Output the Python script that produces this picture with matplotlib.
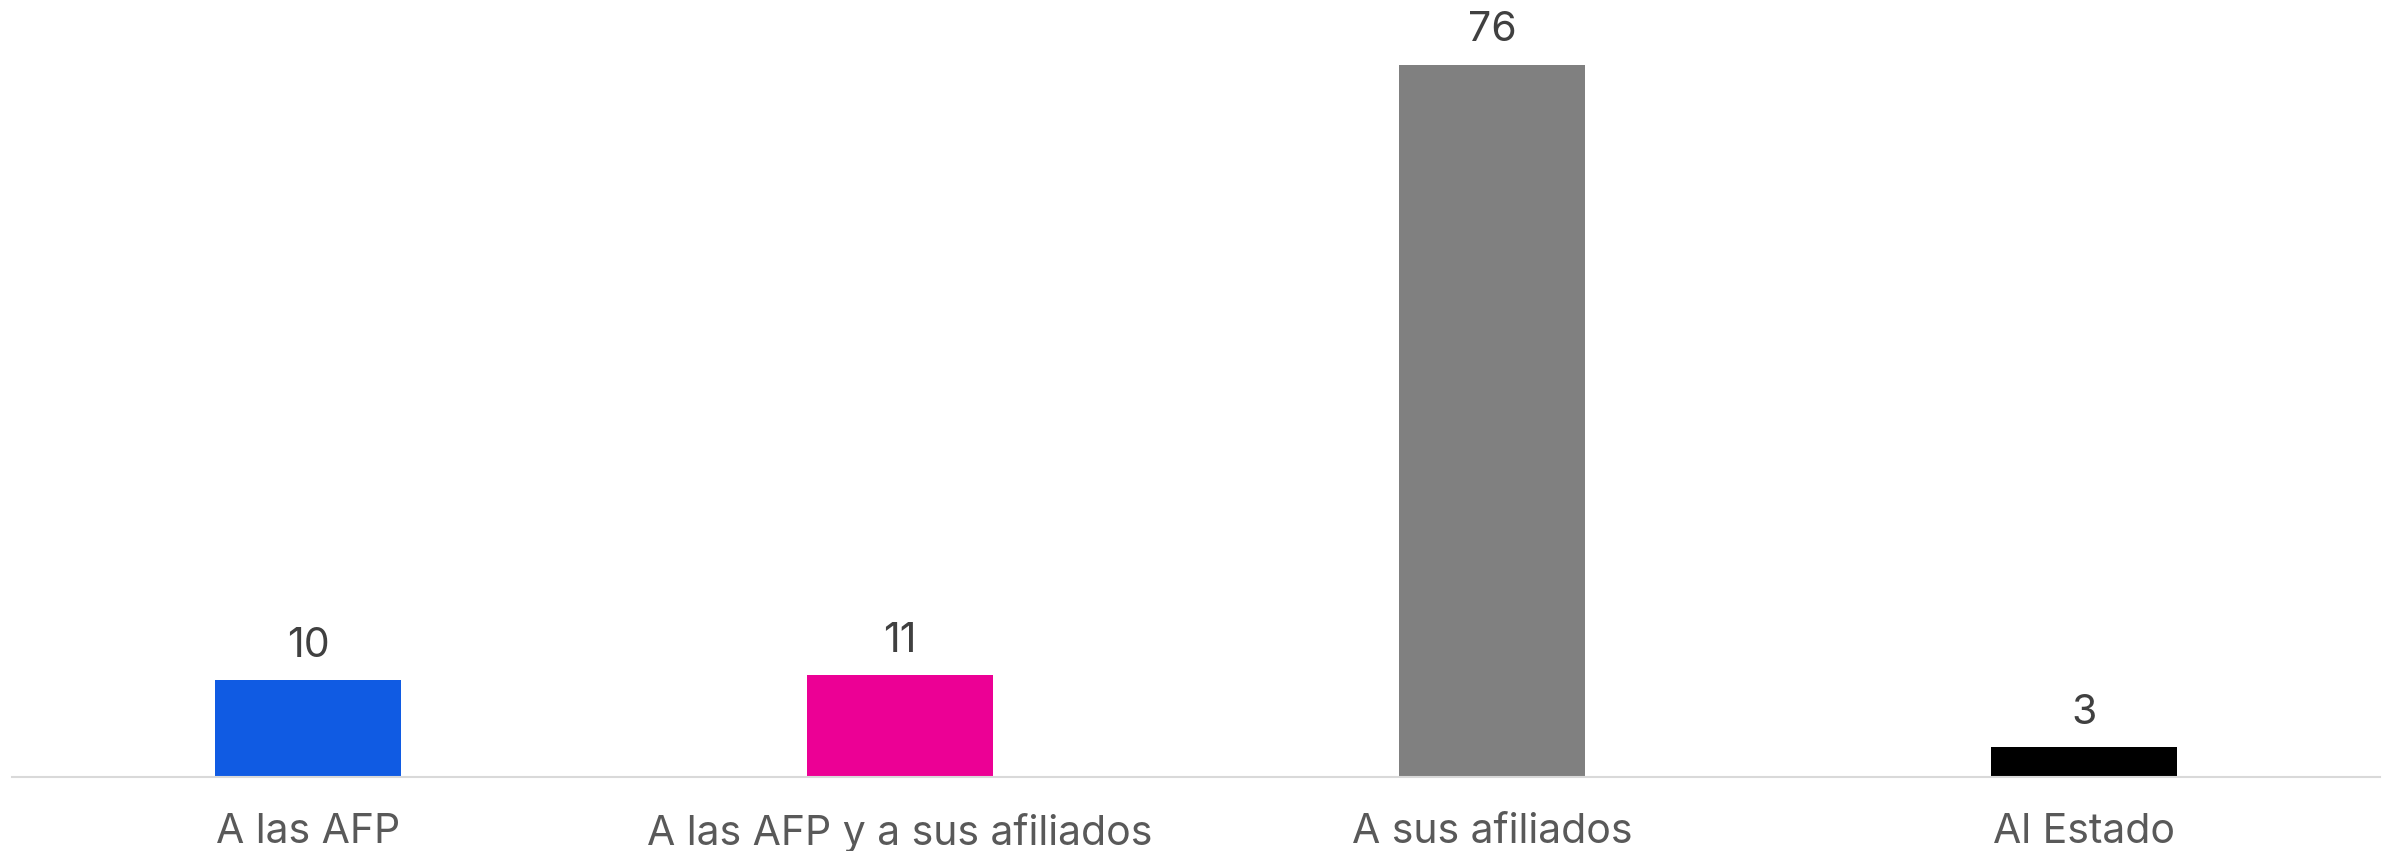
import matplotlib.pyplot as plt

plt.rcParams['font.family'] = ['Inter', 'DejaVu Sans']

categories = ['A las AFP', 'A las AFP y a sus afiliados', 'A sus afiliados', 'Al Estado']
# bar heights; labels show rounded values
values = [10.35, 10.9, 76, 3.2]
value_labels = ['10', '11', '76', '3']
colors = ['#105BE3', '#EC0095', '#808080', '#000000']

fig = plt.figure(figsize=(23.87, 8.51), dpi=100)
ax = fig.add_axes([12 / 2387, 1 - 777 / 851, 2368 / 2387, 777 / 851])

x = range(len(categories))
bars = ax.bar(x, values, width=0.314, color=colors)
ax.bar_label(bars, labels=value_labels, padding=11,
             fontsize=29.5, color='#404040')

ax.set_xlim(-0.5, len(categories) - 0.5)
ax.set_ylim(0, 82.9)
ax.set_xticks(list(x))
ax.set_xticklabels(categories, fontsize=29.5, color='#595959')
ax.tick_params(axis='x', length=0, pad=26)
ax.set_yticks([])
for s in ['top', 'right', 'left']:
    ax.spines[s].set_visible(False)
ax.spines['bottom'].set_color('#d9d9d9')
ax.spines['bottom'].set_linewidth(1.5)

fig.savefig('out.png', dpi=100)
